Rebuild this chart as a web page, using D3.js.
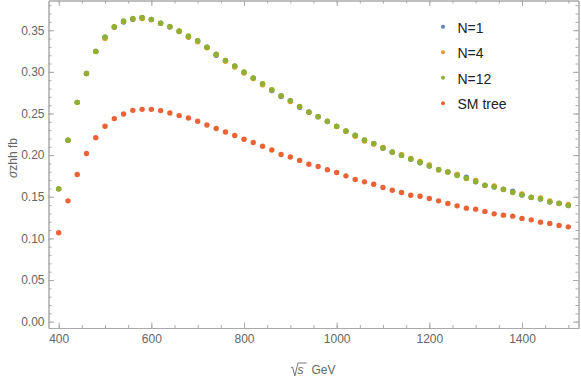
<html>
<head>
	<title>sigma zhh</title>
	<style>
		body {
			margin: 0;
			padding: 0;
			background: #fff;
			font-family: "Liberation Sans", Arial, sans-serif;
		}
		.axis .domain, .axis line {
			stroke: #aaa;
		}
		.axis text {
			fill: #666;
			font-size: 12px;
			font-family: "Liberation Sans", Arial, sans-serif;
		}
	</style>
</head>
<body>
	<svg width="581" height="379"></svg>
	<script src="https://d3js.org/d3.v7.min.js"></script>
	<script>

		// energies sqrt(s) in GeV, step 20
		var energies = [400,420,440,460,480,500,520,540,560,580,
			600,620,640,660,680,700,720,740,760,780,
			800,820,840,860,880,900,920,940,960,980,
			1000,1020,1040,1060,1080,1100,1120,1140,1160,1180,
			1200,1220,1240,1260,1280,1300,1320,1340,1360,1380,
			1400,1420,1440,1460,1480,1500];

		var n1 = [0.1595,0.2180,0.2634,0.2980,0.3246,0.3417,0.3535,0.3598,0.3630,0.3650,
			0.3628,0.3583,0.3540,0.3485,0.3418,0.3370,0.3295,0.3200,0.3136,0.3068,
			0.2995,0.2924,0.2856,0.2775,0.2703,0.2653,0.2574,0.2516,0.2461,0.2404,
			0.2345,0.2288,0.2237,0.2180,0.2137,0.2084,0.2036,0.1997,0.1952,0.1909,
			0.1868,0.1825,0.1797,0.1765,0.1735,0.1681,0.1637,0.1617,0.1589,0.1567,
			0.1521,0.1493,0.1473,0.1437,0.1421,0.1394];

		var n4 = [0.1595,0.2180,0.2634,0.2980,0.3244,0.3402,0.3538,0.3606,0.3636,0.3640,
			0.3627,0.3582,0.3542,0.3487,0.3418,0.3362,0.3290,0.3208,0.3126,0.3058,
			0.2986,0.2920,0.2846,0.2784,0.2712,0.2643,0.2583,0.2515,0.2460,0.2403,
			0.2344,0.2287,0.2227,0.2170,0.2134,0.2092,0.2035,0.2004,0.1960,0.1923,
			0.1882,0.1824,0.1796,0.1767,0.1720,0.1695,0.1636,0.1631,0.1588,0.1552,
			0.1535,0.1492,0.1487,0.1451,0.1420,0.1408];

		var n12 = [0.1595,0.2180,0.2634,0.2980,0.3246,0.3417,0.3542,0.3610,0.3641,0.3653,
			0.3630,0.3585,0.3545,0.3490,0.3430,0.3374,0.3297,0.3213,0.3138,0.3070,
			0.2998,0.2926,0.2858,0.2787,0.2715,0.2655,0.2586,0.2518,0.2463,0.2406,
			0.2347,0.2290,0.2239,0.2182,0.2139,0.2086,0.2038,0.1999,0.1954,0.1911,
			0.1870,0.1827,0.1799,0.1755,0.1723,0.1683,0.1639,0.1619,0.1591,0.1555,
			0.1523,0.1495,0.1475,0.1439,0.1423,0.1396];

		var smTree = [0.1067,0.1451,0.1767,0.2019,0.2210,0.2347,0.2439,0.2494,0.2538,0.2550,
			0.2550,0.2535,0.2506,0.2475,0.2446,0.2406,0.2362,0.2319,0.2278,0.2235,
			0.2191,0.2151,0.2107,0.2062,0.2007,0.1978,0.1937,0.1891,0.1863,0.1824,
			0.1791,0.1751,0.1707,0.1679,0.1651,0.1612,0.1579,0.1552,0.1519,0.1507,
			0.1480,0.1451,0.1420,0.1391,0.1363,0.1351,0.1324,0.1295,0.1279,0.1267,
			0.1240,0.1223,0.1195,0.1180,0.1156,0.1139];

		var seriesNames = ["N=1", "N=4", "N=12", "SM tree"];
		var seriesValues = [n1, n4, n12, smTree];
		var colours = ["#5e81b5", "#e19c24", "#8fb032", "#eb6235"];

		var xTicks = [400, 600, 800, 1000, 1200, 1400];
		var yTicks = [0, 0.05, 0.10, 0.15, 0.20, 0.25, 0.30, 0.35];

		// frame edges (note: "top" is taken by window.top)
		var frameLeft = 48.5, frameRight = 578.5, frameTop = 0.5, frameBottom = 328;

		var svg = d3.select("svg");

		var x = d3.scaleLinear().domain([378, 1522]).range([frameLeft, frameRight]);
		var y = d3.scaleLinear().domain([-0.0076, 0.3857]).range([frameBottom, frameTop]);

		var xMinor = d3.range(400, 1521, 50);
		var yMinor = d3.range(0, 39).map(function(i){ return i / 100; });

		// frame: minor ticks first, then major ticks with labels
		function frameSide(axisFn, scale, minor, major, pos, labels, padding, fmt) {
			svg.append("g")
			.attr("class", "axis")
			.attr("transform", pos)
			.call(axisFn(scale).tickValues(minor).tickSizeInner(-3).tickSizeOuter(0).tickFormat(""));

			svg.append("g")
			.attr("class", "axis")
			.attr("transform", pos)
			.call(axisFn(scale).tickValues(major).tickSizeInner(-5.5).tickSizeOuter(0)
				.tickPadding(padding).tickFormat(labels ? fmt : ""));
		}

		frameSide(d3.axisBottom, x, xMinor, xTicks, "translate(0," + frameBottom + ")", true, 6.5, d3.format("d"));
		frameSide(d3.axisTop, x, xMinor, xTicks, "translate(0," + frameTop + ")", false, 3, null);
		frameSide(d3.axisLeft, y, yMinor, yTicks, "translate(" + frameLeft + ",0)", true, 4, d3.format(".2f"));
		frameSide(d3.axisRight, y, yMinor, yTicks, "translate(" + frameRight + ",0)", false, 3, null);

		// points
		seriesValues.forEach(function(vals, s) {
			svg.append("g")
			.selectAll("circle")
			.data(vals)
			.enter()
			.append("circle")
			.attr("cx", function(d, i){ return x(energies[i]); })
			.attr("cy", function(d){ return y(d); })
			.attr("r", 2.7)
			.style("fill", colours[s]);
		});

		// legend
		var legend = svg.append("g").attr("transform", "translate(443,26.7)");
		var items = legend.selectAll("g")
			.data(seriesNames)
			.enter()
			.append("g")
			.attr("transform", function(d, i){ return "translate(0," + (i * 25.5) + ")"; });

		items.append("circle")
			.attr("r", 2)
			.style("fill", function(d, i){ return colours[i]; });

		items.append("text")
			.attr("x", 14.5)
			.attr("y", 6)
			.style("font-size", "14px")
			.style("fill", "#222")
			.text(function(d){ return d; });

		// y label
		var yLab = svg.append("text")
			.attr("transform", "translate(17,158) rotate(-90)")
			.attr("text-anchor", "middle")
			.style("font-size", "12px")
			.style("fill", "#666");
		yLab.append("tspan").style("font-style", "italic").text("σ");
		yLab.append("tspan").text("zhh fb");

		// x label with radical sign
		var cx = (frameLeft + frameRight) / 2;
		var xLab = svg.append("g").attr("transform", "translate(" + (cx - 22.5) + ",374)");
		xLab.append("path")
			.attr("d", "M0,-6 L1.5,-7 L3.8,2 L7,-11 L15.5,-11")
			.style("fill", "none")
			.style("stroke", "#666")
			.style("stroke-width", 0.9);
		xLab.append("text")
			.attr("x", 6.5)
			.style("font-size", "12px")
			.style("font-style", "italic")
			.style("fill", "#666")
			.text("s");
		xLab.append("text")
			.attr("x", 20.5)
			.style("font-size", "12px")
			.style("fill", "#666")
			.text("GeV");

	</script>
</body>
</html>
